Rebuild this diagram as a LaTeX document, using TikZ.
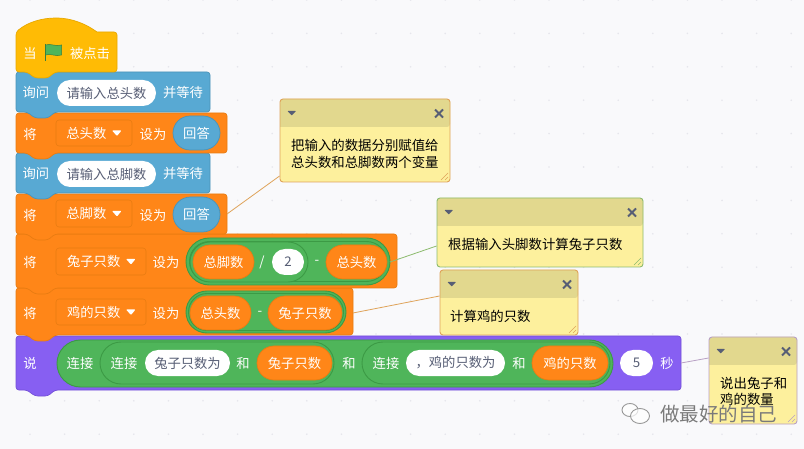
\documentclass[tikz,border=0pt]{standalone}
\usepackage{fontspec}
\setmainfont{Noto Sans CJK SC}
\definecolor{bg}{HTML}{F9F9FB}
\definecolor{griddot}{HTML}{E6E6EC}
\definecolor{yel}{HTML}{FFBB05}\definecolor{yelb}{HTML}{E8A800}
\definecolor{blu}{HTML}{58A9D3}\definecolor{blub}{HTML}{4A93B8}
\definecolor{ora}{HTML}{FF8618}\definecolor{orab}{HTML}{E87C12}
\definecolor{pur}{HTML}{875FF2}\definecolor{purb}{HTML}{7450D8}
\definecolor{gre}{HTML}{4FB55A}\definecolor{greb}{HTML}{3C9A45}
\definecolor{txtg}{HTML}{575E75}
\definecolor{notey}{HTML}{FDF09D}\definecolor{noteh}{HTML}{E2D88E}
\definecolor{nicon}{HTML}{575E75}
\definecolor{cora}{HTML}{DFA35A}\definecolor{cgre}{HTML}{8DBB6E}\definecolor{cpur}{HTML}{B8A0C4}
\newcounter{nn}
\tikzset{
 lab/.style={text=white,inner sep=0pt,font=\fontsize{13.3}{14}\selectfont},
 notetxt/.style={text=black,inner sep=0pt,anchor=west,font=\fontsize{13.4}{14}\selectfont},
 wpill/.style={fill=white,text=txtg,font=\fontsize{13.3}{14}\selectfont},
 opill/.style={fill=ora,draw=orab,line width=.7pt,text=white,font=\fontsize{13.3}{14}\selectfont},
 bpill/.style={fill=blu,draw=blub,line width=.7pt,text=white,font=\fontsize{13.3}{14}\selectfont},
 gpill/.style={fill=gre,draw=greb,line width=.9pt},
 drop/.style={fill=ora,draw=orab,line width=.6pt,rounded corners=3pt,text=white,inner sep=0pt},
 link/.style={line width=.8pt},
 noteb/.style={draw,line width=.9pt,rounded corners=3pt,inner sep=0pt}
}
\newcommand\pill[6]{%
 \pgfmathsetmacro\pw{#3-#1}\pgfmathsetmacro\ph{#4-#2}\pgfmathsetmacro\pr{(#4-#2)/2-0.01}%
 \stepcounter{nn}%
 \node[#5,minimum width=\pw pt,minimum height=\ph pt,rounded corners=\pr pt,inner sep=0pt] (p\thenn) at ({(#1+#3)/2},{(#2+#4)/2}) {#6};}
\newcommand\lab[3]{\stepcounter{nn}\node[lab] (l\thenn) at (#1,#2) {#3};}
\newcommand\dropd[5]{% x1 y1 x2 y2 text
 \pgfmathsetmacro\pw{#3-#1}\pgfmathsetmacro\ph{#4-#2}%
 \stepcounter{nn}%
 \node[drop,minimum width=\pw pt,minimum height=\ph pt] (d\thenn) at ({(#1+#3)/2},{(#2+#4)/2}) {};
 \node[lab,anchor=east] (dt\thenn) at (#3-25.5,{(#2+#4)/2}) {#5};
 \fill[white,rounded corners=.8pt] (#3-20,{(#2+#4)/2-2.5}) -- (#3-10.5,{(#2+#4)/2-2.5}) -- (#3-15,{(#2+#4)/2+3}) -- cycle;}
\newcommand\block[5]{% top right bottom fill border
 \draw[fill=#4,draw=#5,line width=.7pt,rounded corners=3pt] (16,#1) -- (#2,#1) -- (#2,#3) -- (55,#3) -- (48,#3+6) -- (35,#3+6) -- (27,#3) -- (16,#3) -- cycle;}
\newcommand\note[7]{% name x1 y1 x2 y2 headerbottom border
 \pgfmathsetmacro\pw{#4-#2}\pgfmathsetmacro\ph{#5-#3}%
 \node[noteb,draw=none,fill=notey,minimum width=\pw pt,minimum height=\ph pt] (#1) at ({(#2+#4)/2},{(#3+#5)/2}) {};
 \fill[noteh,rounded corners=3pt] (#2,#6) -- (#2,#3) -- (#4,#3) -- (#4,#6) [sharp corners] -- cycle;
 \fill[nicon,rounded corners=.6pt] (#2+7.5,#3+12) -- (#2+16,#3+12) -- (#2+11.7,#3+16.5) -- cycle;
 \draw[nicon,line width=2pt] (#4-15,#3+10.5) -- (#4-7,#3+18.5) (#4-7,#3+10.5) -- (#4-15,#3+18.5);
 \draw[#7,line width=.6pt] (#4-9,#5-2) -- (#4-2,#5-9) (#4-5,#5-2) -- (#4-2,#5-5);
 \node[noteb,draw=#7,minimum width=\pw pt,minimum height=\ph pt] (#1b) at ({(#2+#4)/2},{(#3+#5)/2}) {};}
\begin{document}
\begin{tikzpicture}[x=1pt,y=-1pt]
\useasboundingbox (0,0) rectangle (804,449);
\fill[bg] (0,0) rectangle (804,449);
\foreach \i in {0,...,23} \foreach \j in {0,...,13}
  \fill[griddot] ({30+\i*34.6},{(\j*33.4)}) circle (.9);
% anchors of the connectors
\coordinate (s1) at (227,214);
\coordinate (s2) at (390,262);
\coordinate (s3) at (353,313);
\coordinate (s4) at (681,363);
% blocks, lowest first so that each bump lies over the block below
\block{336}{681}{390}{pur}{purb}
\block{288}{353}{335}{ora}{orab}
\block{234}{397}{288}{ora}{orab}
\block{194}{227}{234}{ora}{orab}
\block{153}{210}{193}{blu}{blub}
\block{113}{227}{153}{ora}{orab}
\block{72}{210}{112}{blu}{blub}
% hat
\draw[fill=yel,draw=yelb,line width=.7pt,rounded corners=3pt] (16,72) -- (16,32) [sharp corners] .. controls (28,22) and (42,18) .. (56,18) .. controls (72,18) and (86,24) .. (97,32) [rounded corners=3pt] -- (117,32) -- (117,72) -- (55,72) -- (48,78) -- (35,78) -- (27,72) -- cycle;
\lab{30}{53}{当}
\draw[fill=gre,draw=gre!70!black,line width=.5pt] (45.5,45) .. controls (50,43) and (56,47) .. (61.5,45) -- (61.5,55) .. controls (56,57) and (50,53) .. (45.5,55) -- cycle;
\draw[gre!70!black,line width=1.5pt] (45.5,44) -- (45.5,61);
\lab{90}{53}{被点击}
% ask 1
\lab{36}{92}{询问}
\pill{57}{80}{156}{106}{wpill}{请输入总头数}
\lab{183}{92}{并等待}
% set 1
\lab{30}{134}{将}
\dropd{56}{120}{132}{146}{总头数}
\lab{153}{134}{设为}
\pill{173}{116}{220}{150}{bpill}{回答}
% ask 2
\lab{36}{173}{询问}
\pill{57}{161}{156}{187}{wpill}{请输入总脚数}
\lab{183}{173}{并等待}
% set 2
\lab{30}{215}{将}
\dropd{56}{200}{132}{227}{总脚数}
\lab{153}{215}{设为}
\pill{173}{197}{220}{232}{bpill}{回答}
% set 3
\lab{30}{262}{将}
\dropd{56}{248}{146}{275}{兔子只数}
\lab{166}{262}{设为}
\pill{186}{238}{390}{285}{gpill}{}
\pill{189.5}{241.5}{386.5}{281.5}{gpill}{}
\pill{190}{242}{308}{282}{gpill}{}
\pill{193}{245}{254}{279}{opill}{总脚数}
\lab{262}{262}{/}
\pill{272}{249}{304}{275}{wpill}{2}
\lab{317}{262}{-}
\pill{326}{245}{387}{279}{opill}{总头数}
% set 4
\lab{30}{313}{将}
\dropd{56}{299}{146}{325}{鸡的只数}
\lab{166}{313}{设为}
\pill{186}{291}{346}{333}{gpill}{}
\pill{188.5}{293.5}{343.5}{330.5}{gpill}{}
\pill{190}{296}{251}{330}{opill}{总头数}
\lab{260}{313}{-}
\pill{268}{296}{342}{330}{opill}{兔子只数}
% say
\lab{30}{363}{说}
\pill{57}{340}{613}{387}{gpill}{}
\lab{80}{363}{连接}
\pill{100}{342}{334}{384}{gpill}{}
\lab{124}{363}{连接}
\pill{145}{350}{230}{376}{wpill}{兔子只数为}
\lab{243}{363}{和}
\pill{257}{346}{332}{380}{opill}{兔子只数}
\lab{349}{363}{和}
\pill{362}{342}{610}{384}{gpill}{}
\lab{386}{363}{连接}
\pill{406}{350}{505}{376}{wpill}{，鸡的只数为}
\lab{519}{363}{和}
\pill{532}{346}{608}{380}{opill}{鸡的只数}
\pill{620}{350}{653}{376}{wpill}{5}
\lab{667}{363}{秒}
% notes
\note{na}{280}{99}{450}{182}{127}{cora}
\node[notetxt] (na1) at (291,145) {把输入的数据分别赋值给};
\node[notetxt] (na2) at (291,162) {总头数和总脚数两个变量};
\note{nb}{437}{198}{643}{267}{226}{cgre}
\node[notetxt] (nb1) at (448,244) {根据输入头脚数计算兔子只数};
\note{nc}{440}{270}{578}{335}{298}{cora}
\node[notetxt] (nc1) at (450,316) {计算鸡的只数};
\note{nd}{709}{337}{797}{424}{365}{cpur}
\node[notetxt] (nd1) at (720,383) {说出兔子和};
\node[notetxt] (nd2) at (720,399) {鸡的数量};
% connectors
\draw[link,cora] (s1) -- ([yshift=-35.5pt]na.west);
\draw[link,cgre] (s2) -- ([yshift=-13.5pt]nb.west);
\draw[link,cora] (s3) -- ([yshift=6.5pt]nc.west);
\draw[link,cpur] (s4) -- ([yshift=22.5pt]nd.west);
% watermark
\draw[gray!80,line width=.9pt,fill=white,fill opacity=.7] (630,410) ellipse (8 and 6.5);
\draw[gray!80,line width=.9pt,fill=white,fill opacity=.7] (640,416) ellipse (9.5 and 7.5);
\node[text=black!52,inner sep=0pt,anchor=west,font=\fontsize{19.5}{20}\selectfont] (wm) at (660,414) {做最好的自己};
\end{tikzpicture}
\end{document}
